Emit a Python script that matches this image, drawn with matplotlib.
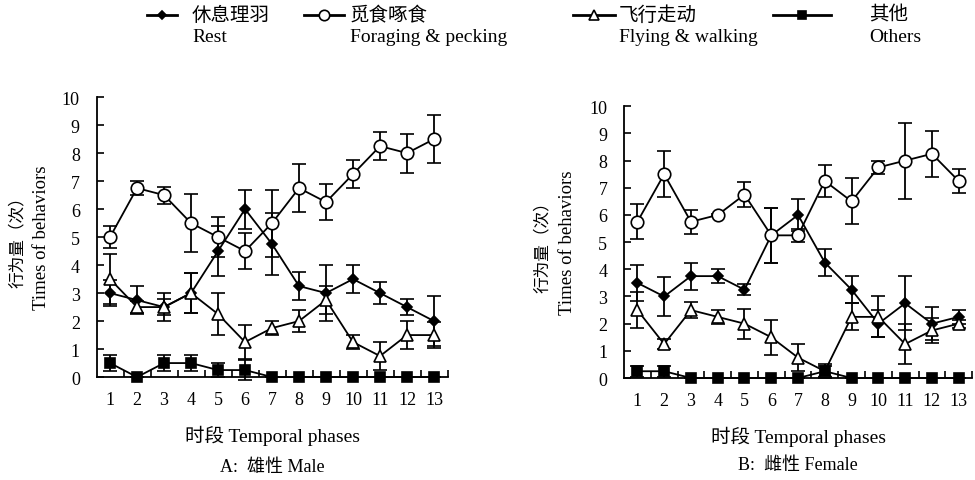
import numpy as np
import matplotlib.pyplot as plt
from matplotlib.ticker import FixedLocator

# data
phases = list(range(1, 14))

male_rest = [3, 2.75, 2.5, 3, 4.5, 6, 4.75, 3.25, 3, 3.5, 3, 2.5, 2]
male_rest_err = [0.45, 0.5, 0.5, 0.7, 0.9, 0.7, 1.1, 0.5, 1.0, 0.5, 0.4, 0.3, 0.9]
male_forage = [5, 6.75, 6.5, 5.5, 5, 4.5, 5.5, 6.75, 6.25, 7.25, 8.25, 8, 8.5]
male_forage_err = [0.4, 0.25, 0.3, 1.05, 0.7, 0.65, 1.2, 0.85, 0.65, 0.5, 0.5, 0.7, 0.85]
male_fly = [3.5, 2.5, 2.5, 3, 2.25, 1.25, 1.75, 2, 2.75, 1.25, 0.75, 1.5, 1.5]
male_fly_err = [0.9, 0.2, 0.3, 0.7, 0.75, 0.6, 0.25, 0.4, 0.5, 0.25, 0.5, 0.5, 0.45]
male_other = [0.5, 0, 0.5, 0.5, 0.25, 0.25, 0, 0, 0, 0, 0, 0, 0]
male_other_err = [0.3, 0, 0.3, 0.3, 0.25, 0.35, 0, 0, 0, 0, 0, 0, 0]

female_rest = [3.5, 3, 3.75, 3.75, 3.25, 5.25, 6, 4.25, 3.25, 2, 2.75, 2, 2.25]
female_rest_err = [0.65, 0.7, 0.5, 0.25, 0.2, 1.0, 0.6, 0.5, 0.5, 0.5, 1.0, 0.6, 0.25]
female_forage = [5.75, 7.5, 5.75, 6, 6.75, 5.25, 5.25, 7.25, 6.5, 7.75, 8, 8.25, 7.25]
female_forage_err = [0.65, 0.85, 0.45, 0.05, 0.45, 1.0, 0.25, 0.6, 0.85, 0.25, 1.4, 0.85, 0.45]
female_fly = [2.5, 1.25, 2.5, 2.25, 2, 1.5, 0.75, 0.25, 2.25, 2.25, 1.25, 1.75, 2]
female_fly_err = [0.65, 0.2, 0.3, 0.25, 0.55, 0.65, 0.5, 0.25, 0.5, 0.75, 0.75, 0.45, 0.15]
female_other = [0.25, 0.25, 0, 0, 0, 0, 0, 0.25, 0, 0, 0, 0, 0]
female_other_err = [0.2, 0.2, 0, 0, 0, 0, 0, 0.2, 0, 0, 0, 0, 0]

legend_cn = ['休息理羽', '觅食啄食', '飞行走动', '其他']
legend_en = ['Rest', 'Foraging & pecking', 'Flying & walking', 'Others']

FONT = ['Liberation Serif', 'Noto Sans CJK SC']
plt.rcParams['font.family'] = FONT
plt.rcParams['axes.unicode_minus'] = False

# marker style per behaviour: (marker, facecolor, size)
styles = [('D', 'black', 5.5), ('o', 'white', 9), ('^', 'white', 9), ('s', 'black', 7)]

fig = plt.figure(figsize=(9.75, 4.81), dpi=100)


def draw_panel(ax, series, title, ylab_x, xlab_y, title_y):
    for (vals, errs), (mk, fc, ms) in zip(series, styles):
        ax.errorbar(phases, vals, yerr=errs, color='black', lw=1.3,
                    marker=mk, mfc=fc, mec='black', mew=1.2, ms=ms,
                    ecolor='black', elinewidth=1.3, capsize=5, capthick=1.3,
                    clip_on=False, zorder=3)
    ax.set_xlim(0.5, 13.5)
    ax.set_ylim(0, 10)
    ax.set_yticks(range(0, 11))
    ax.set_xticks(phases)
    ax.xaxis.set_minor_locator(FixedLocator(np.arange(1.5, 13.6, 1)))
    ax.tick_params(axis='x', which='major', length=0, pad=10, labelsize=13)
    ax.tick_params(axis='x', which='minor', direction='in', length=5, width=1.2)
    ax.tick_params(axis='y', direction='in', length=5, width=1.2, pad=12, labelsize=13)
    for s in ['top', 'right']:
        ax.spines[s].set_visible(False)
    for s in ['left', 'bottom']:
        ax.spines[s].set_linewidth(1.3)
    ax.text(0.5, xlab_y, '时段 Temporal phases', transform=ax.transAxes,
            ha='center', va='center', fontsize=14)
    ax.text(0.5, title_y, title, transform=ax.transAxes, ha='center', va='center',
            fontsize=13)
    # two-line y label, each line its own text
    fig.text(ylab_x / 975, 0.5 * (ax.get_position().y0 + ax.get_position().y1),
             '行为量（次）', rotation=90, ha='center', va='center', fontsize=12)
    fig.text((ylab_x + 24) / 975, 0.5 * (ax.get_position().y0 + ax.get_position().y1),
             'Times of behaviors', rotation=90, ha='center', va='center', fontsize=13.5)


ax1 = fig.add_axes([0.099, 0.214, 0.360, 0.582])
draw_panel(ax1, [(male_rest, male_rest_err), (male_forage, male_forage_err),
                 (male_fly, male_fly_err), (male_other, male_other_err)],
           'A:  雄性 Male', 18, -0.207, -0.321)

ax2 = fig.add_axes([0.640, 0.212, 0.357, 0.565])
draw_panel(ax2, [(female_rest, female_rest_err), (female_forage, female_forage_err),
                 (female_fly, female_fly_err), (female_other, female_other_err)],
           'B:  雌性 Female', 543, -0.213, -0.32)

# legend drawn by hand in pixel coordinates
lg = fig.add_axes([0, 0, 1, 1])
lg.set_xlim(0, 975)
lg.set_ylim(481, 0)
lg.axis('off')
line_spans = [(147, 177), (304, 344), (573, 615), (773, 831)]
text_x = [192, 350, 619, 869]
for (x0, x1), tx, cn, en, (mk, fc, ms) in zip(line_spans, text_x, legend_cn, legend_en, styles):
    lg.plot([x0, x1], [16, 16], color='black', lw=2)
    lg.plot([(x0 + x1) / 2], [16], marker=mk, mfc=fc, mec='black', mew=1.2,
            ms=ms - 1.5, color='black')
    lg.text(tx, 16, cn, fontsize=14, ha='left', va='center')
    lg.text(tx, 38, en, fontsize=14, ha='left', va='center')

fig.savefig('out.png', dpi=100)
